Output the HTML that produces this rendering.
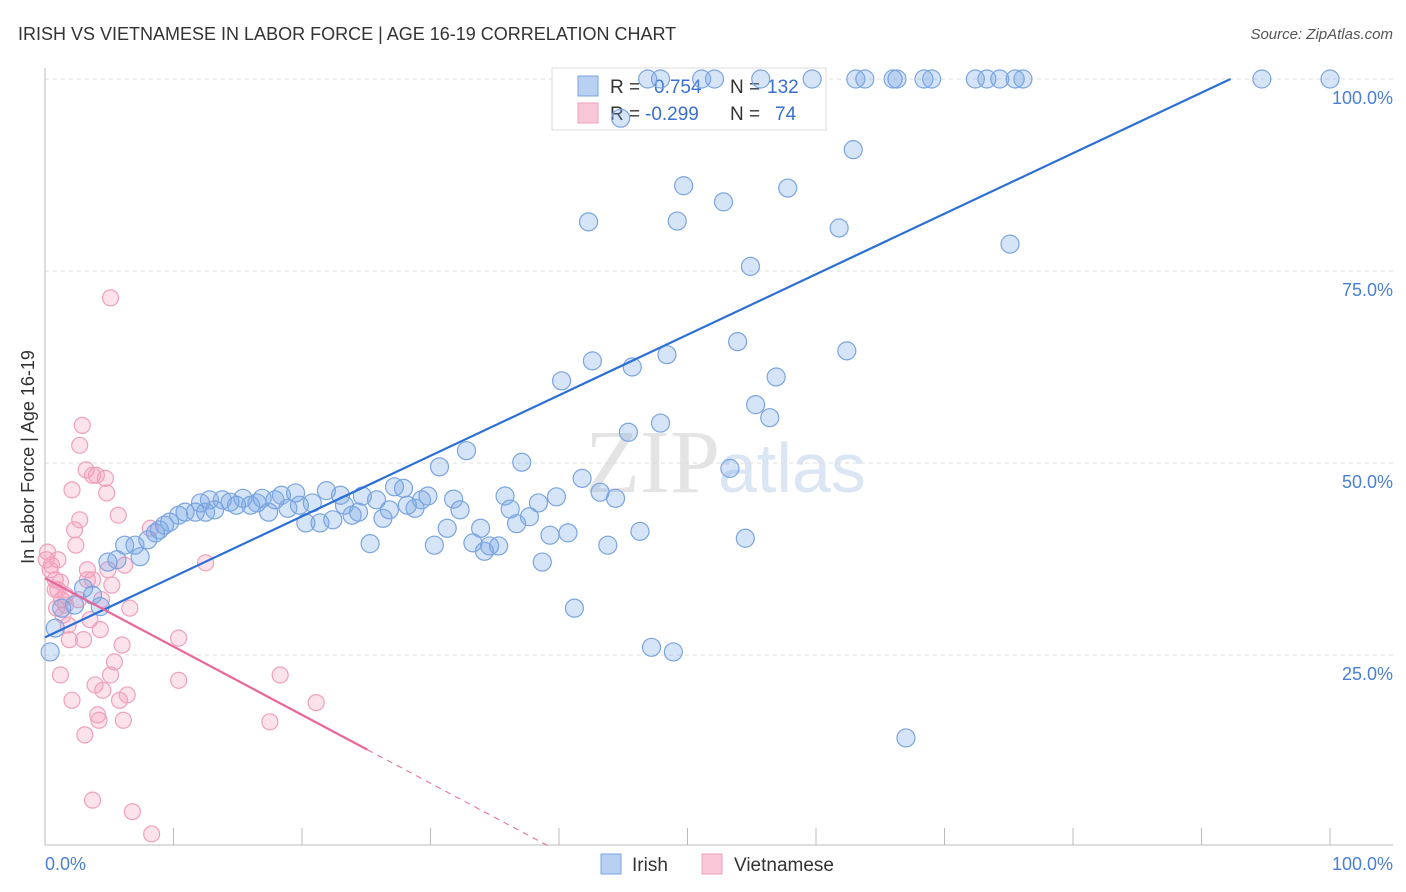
<!DOCTYPE html>
<html><head><meta charset="utf-8"><style>
body{margin:0;background:#fff;font-family:"Liberation Sans",sans-serif}
svg{display:block}
</style></head><body>
<svg width="1406" height="892" xmlns="http://www.w3.org/2000/svg">
<text x="18" y="40" font-size="18" fill="#333">IRISH VS VIETNAMESE IN LABOR FORCE | AGE 16-19 CORRELATION CHART</text>
<text x="1393" y="39" font-size="15" fill="#555" font-style="italic" text-anchor="end">Source: ZipAtlas.com</text>
<text x="720" y="492" font-size="90" fill="#e4e4e4" text-anchor="end" font-family="Liberation Serif">ZIP</text>
<text x="718" y="492" font-size="70" fill="#dbe6f5">atlas</text>
<g id="grid"></g>
<g id="axes"></g>
<g>
<rect x="552" y="68" width="274" height="62" fill="#fff" stroke="#ddd"/>
<rect x="578" y="76" width="20" height="20" fill="#b8d0f2" stroke="#7aa5e0"/>
<rect x="578" y="103" width="20" height="20" fill="#f9c8d8" stroke="#f0a0bb"/>
<text x="610" y="93" font-size="19" fill="#333">R =</text>
<text x="654" y="93" font-size="19" fill="#3a6fd0">0.754</text>
<text x="730" y="93" font-size="19" fill="#333">N =</text>
<text x="767" y="93" font-size="19" fill="#3a6fd0">132</text>
<text x="610" y="120" font-size="19" fill="#333">R =</text>
<text x="645" y="120" font-size="19" fill="#3a6fd0">-0.299</text>
<text x="730" y="120" font-size="19" fill="#333">N =</text>
<text x="775" y="120" font-size="19" fill="#3a6fd0">74</text>
</g>
<g id="pts"></g>
<g id="lines"></g>
<text transform="translate(34,457) rotate(-90)" font-size="18" fill="#333" text-anchor="middle">In Labor Force | Age 16-19</text>
<text x="45" y="870" font-size="18" fill="#4a7fd4">0.0%</text>
<text x="1393" y="870" font-size="18" fill="#4a7fd4" text-anchor="end">100.0%</text>
<g>
<rect x="601" y="854" width="20" height="20" fill="#b8d0f2" stroke="#7aa5e0"/>
<text x="632" y="871" font-size="19" fill="#333">Irish</text>
<rect x="702" y="854" width="20" height="20" fill="#f9c8d8" stroke="#f0a0bb"/>
<text x="734" y="871" font-size="19" fill="#333">Vietnamese</text>
</g>
</svg>
<script>
const yTicks=[25,50,75,100];
const yTickLabels=["25.0%","50.0%","75.0%","100.0%"];
const xTicks=[0,10,20,30,40,50,60,70,80,90,100];
const irishX=[0.4,0.8,1.3,2.3,3.0,3.7,4.3,4.9,5.6,6.2,7.0,7.4,8.0,8.6,8.9,9.3,9.7,10.4,10.9,11.7,12.1,12.5,12.8,13.2,13.8,14.4,14.9,15.4,16.0,16.5,16.9,17.4,17.9,18.4,18.9,19.5,19.8,20.3,20.8,21.4,21.9,22.4,23.0,23.3,23.9,24.4,24.7,25.3,25.8,26.3,26.8,27.2,27.9,28.2,28.8,29.3,29.8,30.3,30.7,31.3,31.8,32.3,32.8,33.3,33.9,34.2,34.6,35.3,35.8,36.2,36.7,37.1,37.7,38.4,38.7,39.3,39.8,40.2,40.7,41.2,41.8,42.3,42.6,43.2,43.8,44.4,44.8,45.4,45.7,46.3,47.2,47.9,48.4,48.9,49.2,49.7,52.8,53.3,53.9,54.5,54.9,55.3,56.4,56.9,57.8,59.7,61.8,62.4,62.9,63.1,63.8,66.0,66.3,67.0,68.4,69.0,72.4,73.3,74.3,75.1,75.5,76.1,94.7,100.0,46.9,47.9,51.1,52.1,55.7];
const irishY=[25.4,28.5,31.1,31.5,33.7,32.8,31.3,37.1,37.4,39.3,39.3,37.8,40.0,40.9,41.3,41.9,42.3,43.2,43.6,43.6,44.8,43.6,45.2,43.9,45.2,44.9,44.5,45.4,44.5,44.8,45.4,43.6,45.2,45.8,44.1,46.1,44.5,42.2,44.8,42.2,46.4,42.6,45.8,44.5,43.2,43.6,45.7,39.5,45.2,42.8,43.9,46.9,46.7,44.5,44.1,45.2,45.7,39.3,49.5,41.5,45.3,43.9,51.6,39.6,41.5,38.5,39.2,39.2,45.7,44.0,42.1,50.1,43.0,44.8,37.1,40.6,45.6,60.7,40.9,31.1,48.0,81.4,63.3,46.2,39.3,45.4,94.9,54.0,62.5,41.1,26.0,55.2,64.1,25.4,81.5,86.1,84.0,49.3,65.8,40.2,75.6,57.6,55.9,61.2,85.8,100,80.6,64.6,90.8,100,100,100,100,14.2,100,100,100,100,100,78.5,100,100,100,100,100,100,100,100,100];
const vietX=[0.2,0.5,0.8,1.0,1.2,1.3,1.6,1.8,1.9,2.1,2.1,2.3,2.4,2.6,2.7,2.7,2.9,3.0,3.1,3.2,3.3,3.3,3.5,3.7,3.7,3.9,4.0,4.1,4.2,4.3,4.4,4.5,4.7,4.8,4.9,5.1,5.1,5.2,5.4,5.7,5.8,6.0,6.1,6.2,6.4,6.6,6.8,8.2,8.3,10.4,10.4,12.5,17.5,18.3,21.1,0.4,0.8,0.9,0.1,1.2,1.6,3.7,1.0,1.4];
const vietY=[38.4,36.7,34.8,33.5,22.4,32.2,31.5,28.9,27.0,19.1,46.5,41.3,39.3,32.2,42.6,52.3,54.9,27.0,14.6,49.1,36.1,34.8,29.6,6.1,48.4,21.1,48.4,17.2,16.5,28.3,32.2,20.4,48.0,46.1,36.1,71.5,22.4,34.1,24.1,43.2,19.1,26.3,16.5,36.7,19.8,31.1,4.6,41.5,1.7,27.2,21.7,37.0,16.3,22.4,18.8,36.1,33.5,31.1,37.4,34.5,32.8,34.8,37.4,30.2];
const irishTrend=[27.3,0.788];
const vietTrend=[35.0,-0.89];
const X=v=>45+v*12.85, Y=v=>847-v*7.68;
const NS="http://www.w3.org/2000/svg";
function mk(t,a,p){const e=document.createElementNS(NS,t);for(const k in a)e.setAttribute(k,a[k]);p.appendChild(e);return e;}
const grid=document.getElementById('grid'),axes=document.getElementById('axes'),pts=document.getElementById('pts'),lines=document.getElementById('lines');
yTicks.forEach((v,i)=>{
 const l=mk('line',{x1:45,x2:1393,y1:Y(v),y2:Y(v),stroke:'#ddd','stroke-dasharray':'4,4'},grid);
 
 
 const t=mk('text',{x:1393,y:Y(v)+25,'font-size':18,fill:'#4a7fd4','text-anchor':'end'},grid);
 t.textContent=yTickLabels[i];
 
 
});
const ax=mk('line',{x1:45,x2:45,y1:68,y2:845,stroke:'#bbb'},axes);


const bx=mk('line',{x1:45,x2:1393,y1:845,y2:845,stroke:'#bbb'},axes);


xTicks.forEach(v=>{
 const l=mk('line',{x1:X(v),x2:X(v),y1:828,y2:845,stroke:'#bbb'},axes);
 
 
});
vietX.forEach((v,i)=>{
 const c=mk('circle',{cx:X(v),cy:Y(vietY[i]),r:8,fill:'rgba(244,160,190,0.3)',stroke:'#f0a0bb','stroke-width':1.2},pts);
 
 
});
irishX.forEach((v,i)=>{
 const c=mk('circle',{cx:X(v),cy:Y(irishY[i]),r:9,fill:'rgba(120,165,230,0.3)',stroke:'#7aa5e0','stroke-width':1.2},pts);
 
 
});
const xe=(100-irishTrend[0])/irishTrend[1];
const bl=mk('line',{x1:X(0),y1:Y(irishTrend[0]),x2:X(xe),y2:Y(100),stroke:'#2a6fd6','stroke-width':2.2},lines);


const vs=25.1, vz=-vietTrend[0]/vietTrend[1];
const pl=mk('line',{x1:X(0),y1:Y(vietTrend[0]),x2:X(vs),y2:Y(vietTrend[0]+vietTrend[1]*vs),stroke:'#e8669a','stroke-width':2.2},lines);


const pd=mk('line',{x1:X(vs),y1:Y(vietTrend[0]+vietTrend[1]*vs),x2:X(vz),y2:Y(0),stroke:'#e8669a','stroke-width':1,'stroke-dasharray':'6,5'},lines);


</script>
</body></html>
